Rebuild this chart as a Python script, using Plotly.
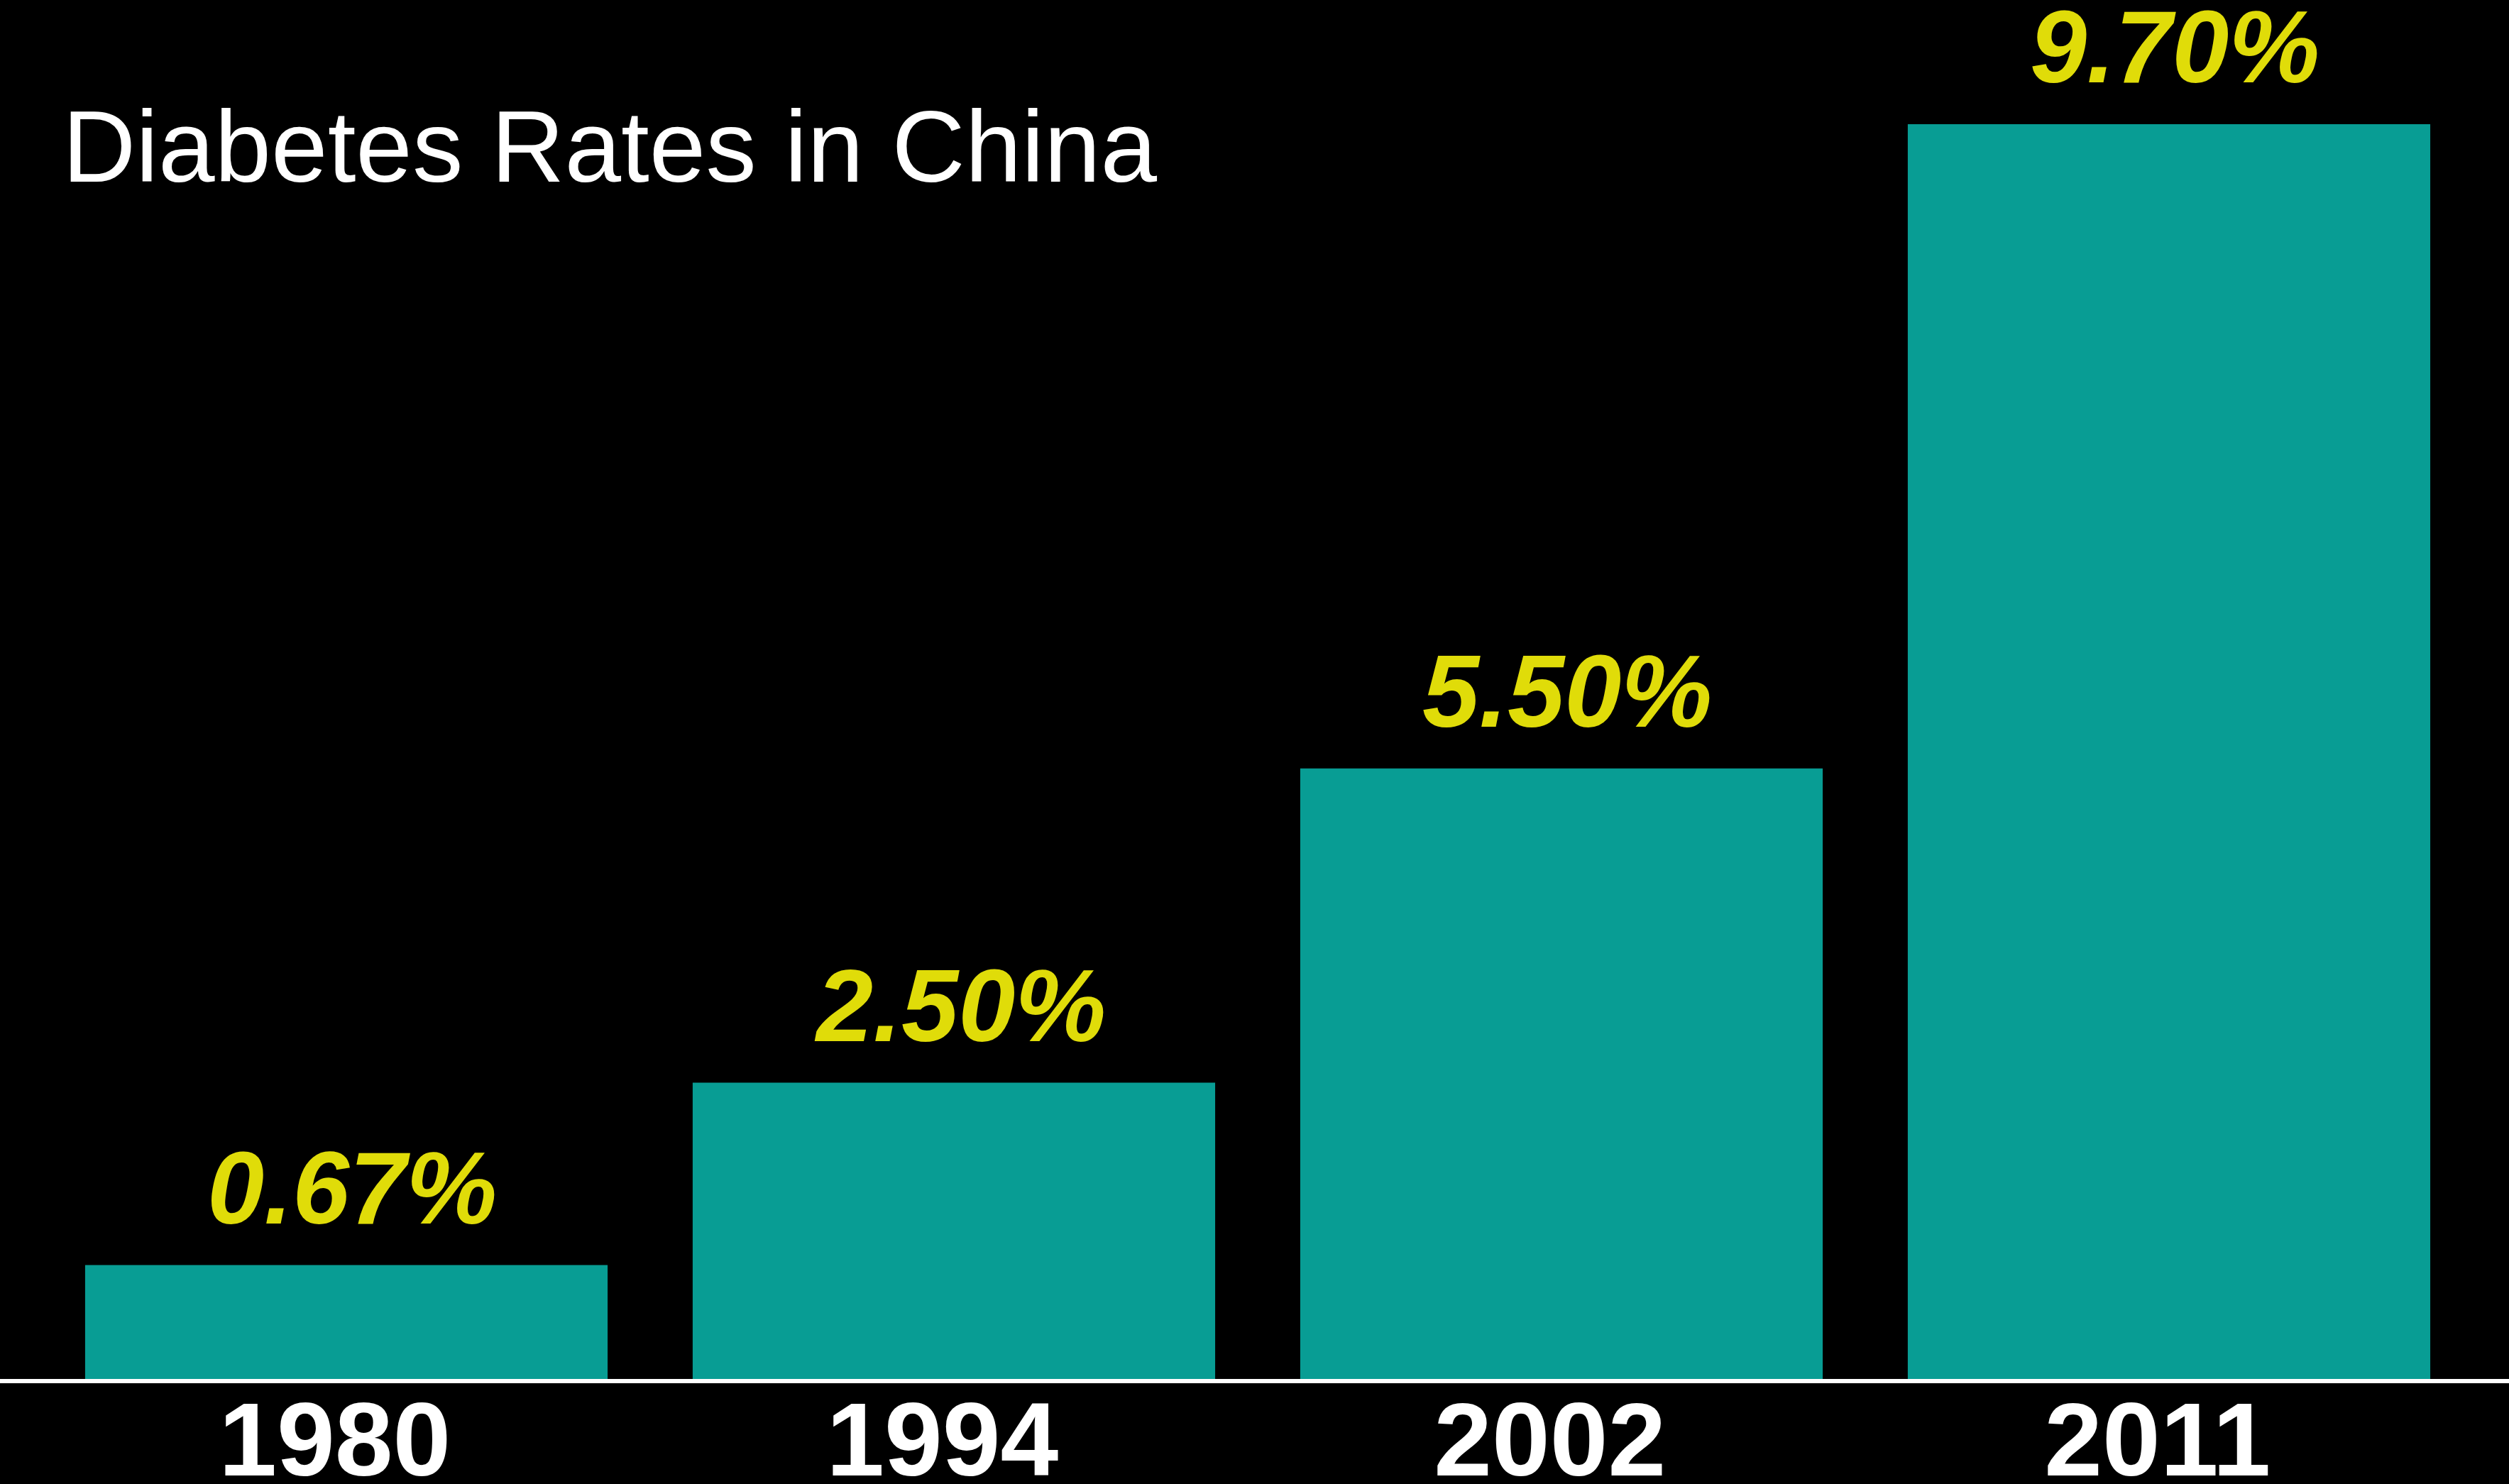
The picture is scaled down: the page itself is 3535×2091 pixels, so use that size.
import plotly.graph_objects as go

# Data
years = ["1980", "1994", "2002", "2011"]
rate_labels = ["0.67%", "2.50%", "5.50%", "9.70%"]
# Bar heights as drawn in the reference (in % units, scaled so 2011 = 9.70)
bar_heights = [0.88, 2.29, 4.72, 9.70]

W, H = 3535, 2091
TEAL = "#089D94"
YELLOW = "#E0DC09"
FONT = "Liberation Sans"

xs = list(range(len(years)))

fig = go.Figure()
fig.add_trace(go.Bar(
    x=xs,
    y=bar_heights,
    marker=dict(color=TEAL, line=dict(width=0)),
    hoverinfo="skip",
))

for i, lab in enumerate(rate_labels):
    fig.add_annotation(
        x=xs[i], y=bar_heights[i], xref="x", yref="y",
        text=f"<b><i>{lab}</i></b>", showarrow=False,
        yanchor="bottom", xanchor="center", yshift=26, xshift=8,
        font=dict(family=FONT, size=144, color=YELLOW),
    )

fig.add_annotation(
    x=86 / W, y=1 - 125 / 1943, xref="paper", yref="paper",
    text="Diabetes Rates in China", showarrow=False,
    xanchor="left", yanchor="top",
    font=dict(family=FONT, size=143, color="white"),
)

fig.update_layout(
    width=W, height=H,
    margin=dict(l=0, r=0, t=0, b=148, pad=0, autoexpand=False),
    paper_bgcolor="black", plot_bgcolor="black",
    bargap=0.14, showlegend=False,
)
fig.update_xaxes(
    range=[-0.5701, 3.5596],
    tickmode="array", tickvals=[x - 0.019 for x in xs],
    ticktext=[f"<b>{y}</b>" for y in years],
    tickfont=dict(family=FONT, size=147, color="white"),
    showgrid=False, zeroline=False,
    showline=True, linecolor="white", linewidth=6,
    ticks="", fixedrange=True, automargin=False,
    ticklabelstandoff=-46,
)
fig.update_yaxes(
    range=[0, 1943 / 182.27],
    visible=False, showgrid=False, zeroline=False, fixedrange=True,
    automargin=False,
)

fig.write_html(
    "out.html",
    config={"displayModeBar": False},
    post_script="document.body.style.margin='0';document.body.style.background='black';",
)
